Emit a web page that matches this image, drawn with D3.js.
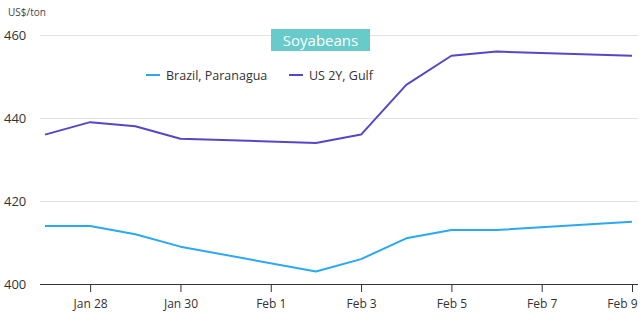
<!DOCTYPE html>
<html>
<head>
<meta charset="utf-8">
<script src="https://cdn.jsdelivr.net/npm/d3@7"></script>
<style>
  html, body { margin: 0; padding: 0; background: #fff; }
  svg { display: block; font-family: "Open Sans", "Noto Sans", sans-serif; }
</style>
</head>
<body>
<svg id="chart" width="644" height="325"></svg>
<script>
// Daily soybean export prices, US$/ton
const dates = ["2026-01-27", "2026-01-28", "2026-01-29", "2026-01-30", "2026-02-02",
               "2026-02-03", "2026-02-04", "2026-02-05", "2026-02-06", "2026-02-09"];
const brazilParanagua = [414, 414, 412, 409, 403, 406, 411, 413, 413, 415];
const us2yGulf        = [436, 439, 438, 435, 434, 436, 448, 455, 456, 455];
const yTicks = [400, 420, 440, 460];
const xTickDates = ["2026-01-28", "2026-01-30", "2026-02-01", "2026-02-03",
                    "2026-02-05", "2026-02-07", "2026-02-09"];
const seriesNames = ["Brazil, Paranagua", "US 2Y, Gulf"];
const seriesColors = ["#2aa8f5", "#5447c8"];
const title = "Soyabeans";
const unitLabel = "US$/ton";

const parse = d3.timeParse("%Y-%m-%d");
const svg = d3.select("#chart");
const plotLeft = 40, plotRight = 638, plotTop = 35, plotBottom = 284;

const x = d3.scaleTime()
  .domain([parse("2026-01-27"), parse("2026-02-09")])
  .range([45, 632]);
const y = d3.scaleLinear().domain([400, 460]).range([plotBottom, plotTop]);

// horizontal gridlines
svg.append("g")
  .selectAll("line")
  .data(yTicks.filter(v => v !== 400))
  .join("line")
  .attr("x1", plotLeft).attr("x2", plotRight)
  .attr("y1", d => Math.round(y(d)) + 0.5).attr("y2", d => Math.round(y(d)) + 0.5)
  .attr("stroke", "#e3e3e3").attr("stroke-width", 1);

// y tick labels
svg.append("g")
  .selectAll("text")
  .data(yTicks)
  .join("text")
  .attr("x", 4).attr("y", d => y(d) + 5)
  .attr("font-size", 13).attr("fill", "#333")
  .text(d => d);

svg.append("text")
  .attr("x", 8).attr("y", 16)
  .attr("font-size", 10).attr("fill", "#444")
  .text(unitLabel);

// x axis
const xAxis = d3.axisBottom(x)
  .tickValues(xTickDates.map(parse))
  .tickFormat(d3.timeFormat("%b %-d"))
  .tickSize(8).tickSizeOuter(0);
const gx = svg.append("g")
  .attr("transform", `translate(0,${plotBottom})`)
  .call(xAxis);
gx.select(".domain").attr("d", `M${plotLeft},0.5H${plotRight}`).attr("stroke", "#333");
gx.selectAll(".tick line").attr("stroke", "#333");
gx.selectAll(".tick text")
  .attr("font-size", 12).attr("fill", "#333")
  .attr("dy", "1.05em")
  .attr("font-family", "\"Open Sans\", sans-serif");
// keep the last label inside the right edge
gx.selectAll(".tick text")
  .filter((d, i, n) => i === n.length - 1)
  .attr("text-anchor", "end")
  .attr("x", 5);

// series lines
const line = d3.line()
  .x((d, i) => x(parse(dates[i])))
  .y(d => y(d));
[brazilParanagua, us2yGulf].forEach((vals, k) => {
  svg.append("path")
    .datum(vals)
    .attr("d", line)
    .attr("fill", "none")
    .attr("stroke", seriesColors[k])
    .attr("stroke-width", 2)
    .attr("stroke-linejoin", "round");
});

// title box
const tg = svg.append("g");
tg.append("rect")
  .attr("x", 271).attr("y", 29).attr("width", 99).attr("height", 22)
  .attr("fill", "#66cbc9");
tg.append("text")
  .attr("x", 320.5).attr("y", 45.5)
  .attr("text-anchor", "middle")
  .attr("font-size", 15).attr("fill", "#fff")
  .text(title);

// legend
const legendX = [146, 289];
seriesNames.forEach((name, k) => {
  svg.append("line")
    .attr("x1", legendX[k]).attr("x2", legendX[k] + 14)
    .attr("y1", 75).attr("y2", 75)
    .attr("stroke", seriesColors[k]).attr("stroke-width", 2);
  svg.append("text")
    .attr("x", legendX[k] + 20).attr("y", 79.5)
    .attr("font-size", 12.5).attr("fill", "#333")
    .text(name);
});
</script>
</body>
</html>
